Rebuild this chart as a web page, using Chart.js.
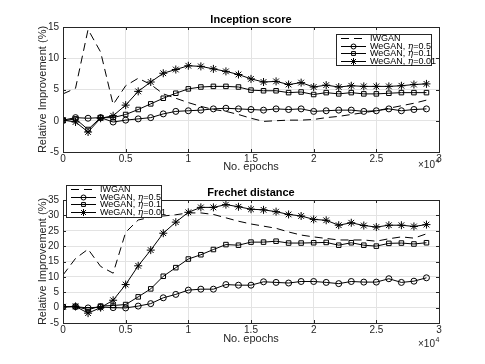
<!DOCTYPE html>
<html>
<head>
<meta charset="utf-8">
<script src="https://cdn.jsdelivr.net/npm/chart.js@4/dist/chart.umd.min.js"></script>
<style>
  html, body { margin: 0; padding: 0; background: #fff; }
  #wrap { width: 485px; height: 364px; position: relative; }
  canvas { display: block; position: absolute; left: 0; }
</style>
</head>
<body>
<div id="wrap">
  <canvas id="isChart" width="485" height="182" style="top:0"></canvas>
  <canvas id="fdChart" width="485" height="182" style="top:182px"></canvas>
</div>
<script>
/* Dados (épocas x melhoria relativa em %). */
const EPOCHS = [0, 1000, 2000, 3000, 4000, 5000, 6000, 7000, 8000, 9000,
  10000, 11000, 12000, 13000, 14000, 15000, 16000, 17000, 18000, 19000,
  20000, 21000, 22000, 23000, 24000, 25000, 26000, 27000, 28000, 29000];

const SERIES_LABELS = ['IWGAN', 'WeGAN, η=0.5', 'WeGAN, η=0.1', 'WeGAN, η=0.01'];
const ETA_VALUES = ['0.5', '0.1', '0.01'];

// Inception score
const IS_IWGAN  = [4.3, 5.2, 14.6, 11.0, 2.6, 5.6, 6.8, 5.8, 4.3, 3.6, 2.9, 2.3, 1.8, 1.5, 1.0, 0.4,
  -0.1, 0.0, 0.1, 0.1, 0.2, 0.5, 0.7, 1.0, 1.3, 1.6, 2.0, 2.4, 2.8, 3.3];
const IS_ETA05  = [0.1, 0.5, 0.4, 0.5, -0.2, 0.1, 0.3, 0.5, 1.1, 1.5, 1.6, 1.7, 1.9, 2.0, 1.9, 1.8,
  1.7, 1.9, 1.8, 1.9, 1.5, 1.6, 1.7, 1.7, 1.5, 1.6, 1.9, 1.6, 1.8, 1.9];
const IS_ETA01  = [0.0, 0.3, -1.4, 0.5, 0.5, 1.0, 1.8, 2.7, 3.6, 4.4, 5.1, 5.4, 5.5, 5.5, 5.4, 4.9,
  4.8, 4.8, 4.5, 4.6, 4.2, 4.5, 4.3, 4.5, 4.3, 4.3, 4.4, 4.5, 4.5, 4.5];
const IS_ETA001 = [0.1, -0.2, -1.8, 0.4, 0.8, 2.5, 4.7, 6.2, 7.6, 8.2, 8.8, 8.7, 8.3, 7.9, 7.4, 6.7,
  6.2, 6.3, 5.8, 6.1, 5.4, 5.7, 5.4, 5.6, 5.5, 5.5, 5.5, 5.6, 5.8, 5.9];

// Frechet distance
const FD_IWGAN  = [10.6, 16.0, 19.0, 13.4, 11.2, 24.5, 28.5, 29.4, 29.8, 30.2, 30.8, 30.8, 30.3, 29.2,
  28.1, 27.2, 26.5, 25.8, 24.6, 23.6, 23.0, 22.5, 22.0, 22.0, 22.0, 21.6, 22.4, 23.0, 22.6, 24.0];
const FD_ETA05  = [0.2, 0.3, -0.1, 0.2, 0.0, -0.1, 0.5, 1.3, 3.2, 4.3, 5.7, 6.0, 6.0, 7.5, 7.3, 7.3,
  8.4, 8.2, 8.0, 8.5, 8.5, 8.2, 7.8, 8.5, 8.3, 8.3, 9.4, 8.2, 8.6, 9.7];
const FD_ETA01  = [0.3, 0.4, -0.7, 0.5, 0.7, 1.0, 3.5, 6.1, 10.2, 13.0, 15.8, 17.2, 18.9, 20.5, 20.3,
  21.3, 21.3, 21.6, 21.0, 21.0, 21.1, 21.2, 20.3, 21.1, 20.3, 20.0, 20.9, 21.0, 20.7, 21.1];
const FD_ETA001 = [0.3, 0.4, -1.8, 0.0, 2.4, 7.5, 13.6, 18.7, 24.2, 27.8, 31.0, 32.6, 32.6, 33.5, 32.8,
  32.0, 31.8, 31.2, 30.3, 29.8, 28.7, 28.4, 26.8, 27.6, 26.7, 26.2, 26.8, 26.8, 26.4, 27.0];

const FONT = '"Liberation Sans", Arial, sans-serif';
const AX = '#262626';
const GRID = '#e3e3e3';

/* Estilo de cada série: linha tracejada sem marcador ou linha com marcador. */
const STYLES = [
  { dash: [8, 5], point: false, radius: 0 },
  { dash: [], point: 'circle', radius: 3 },
  { dash: [], point: 'rect', radius: 3.2 },
  { dash: [], point: 'star', radius: 4 },
];

function buildDatasets(seriesList) {
  return seriesList.map((data, i) => ({
    label: SERIES_LABELS[i],
    data,
    borderColor: '#000',
    borderWidth: 1,
    borderDash: STYLES[i].dash,
    pointStyle: STYLES[i].point,
    pointRadius: STYLES[i].radius,
    pointBorderColor: '#000',
    pointBackgroundColor: 'rgba(0,0,0,0)',
    pointBorderWidth: 1,
    tension: 0,
    fill: false,
  }));
}

/* Moldura estilo MATLAB: caixa completa + ticks internos + título + ×10^4. */
const framePlugin = {
  id: 'frame',
  afterDatasetsDraw(chart, args, opts) {
    const { ctx, chartArea: a, scales } = chart;
    ctx.save();
    ctx.strokeStyle = AX;
    ctx.lineWidth = 1;
    ctx.setLineDash([]);
    ctx.strokeRect(Math.round(a.left) + 0.5, Math.round(a.top) + 0.5,
      Math.round(a.right - a.left), Math.round(a.bottom - a.top));

    ctx.beginPath();
    scales.x.ticks.forEach(t => {
      const x = Math.round(scales.x.getPixelForValue(t.value)) + 0.5;
      ctx.moveTo(x, a.bottom); ctx.lineTo(x, a.bottom - 3);
      ctx.moveTo(x, a.top); ctx.lineTo(x, a.top + 3);
    });
    scales.y.ticks.forEach(t => {
      const y = Math.round(scales.y.getPixelForValue(t.value)) + 0.5;
      ctx.moveTo(a.left, y); ctx.lineTo(a.left + 3, y);
      ctx.moveTo(a.right, y); ctx.lineTo(a.right - 3, y);
    });
    ctx.stroke();

    // título
    ctx.fillStyle = '#000';
    ctx.font = 'bold 11px ' + FONT;
    ctx.textAlign = 'center';
    ctx.textBaseline = 'middle';
    ctx.fillText(opts.title, (a.left + a.right) / 2, opts.titleY);

    // multiplicador do eixo x
    ctx.fillStyle = AX;
    ctx.font = '10px ' + FONT;
    ctx.textAlign = 'left';
    ctx.textBaseline = 'alphabetic';
    const ex = a.right - 21, ey = opts.expY;
    ctx.fillText('×10', ex, ey);
    const w = ctx.measureText('×10').width;
    ctx.font = '7px ' + FONT;
    ctx.fillText('4', ex + w + 0.5, ey - 5);
    ctx.restore();
  },
};

/* Legenda dentro da área do gráfico, com caixa. */
const legendPlugin = {
  id: 'boxLegend',
  afterDraw(chart, args, opts) {
    const { ctx } = chart;
    const { x, y, w, h } = opts;
    ctx.save();
    ctx.fillStyle = '#fff';
    ctx.fillRect(x, y, w, h);
    ctx.strokeStyle = AX;
    ctx.lineWidth = 1;
    ctx.strokeRect(x + 0.5, y + 0.5, w, h);
    chart.data.datasets.forEach((ds, i) => {
      const ry = Math.round(y + 4 + i * 7.6) + 0.5;
      ctx.strokeStyle = '#000';
      ctx.setLineDash(STYLES[i].dash);
      ctx.beginPath();
      ctx.moveTo(x + 5, ry);
      ctx.lineTo(x + 30, ry);
      ctx.stroke();
      ctx.setLineDash([]);
      if (STYLES[i].point && Chart.helpers && Chart.helpers.drawPoint) {
        ctx.fillStyle = 'rgba(0,0,0,0)';
        ctx.strokeStyle = '#000';
        ctx.lineWidth = 1;
        Chart.helpers.drawPoint(ctx, {
          pointStyle: STYLES[i].point, radius: STYLES[i].radius - 0.5, borderWidth: 1, rotation: 0,
        }, x + 17.5, ry);
      }
      ctx.fillStyle = '#000';
      ctx.textBaseline = 'middle';
      ctx.textAlign = 'left';
      let tx = x + 34;
      ctx.font = '9px ' + FONT;
      if (i === 0) {
        ctx.fillText('IWGAN', tx, ry);
      } else {
        ctx.fillText('WeGAN, ', tx, ry);
        tx += ctx.measureText('WeGAN, ').width;
        ctx.font = 'italic 9px "DejaVu Serif", serif';
        ctx.fillText('η', tx, ry);
        tx += ctx.measureText('η').width;
        ctx.font = '9px ' + FONT;
        ctx.fillText('=' + ETA_VALUES[i - 1], tx, ry);
      }
    });
    ctx.restore();
  },
};

function makeChart(id, series, cfg) {
  const H = 182;
  return new Chart(document.getElementById(id).getContext('2d'), {
    type: 'line',
    plugins: [framePlugin, legendPlugin],
    data: { labels: EPOCHS, datasets: buildDatasets(series) },
    options: {
      responsive: false,
      animation: false,
      devicePixelRatio: 1,
      layout: { padding: { left: 0, top: cfg.top, right: 46, bottom: 0 } },
      scales: {
        x: {
          type: 'linear', min: 0, max: 30000,
          afterFit: s => { s.height = H - cfg.bottom; },
          ticks: { stepSize: 5000, padding: 1, color: AX, font: { size: 10, family: FONT },
            callback: v => String(v / 10000), maxRotation: 0 },
          grid: { color: GRID, drawTicks: false },
          border: { display: false },
          title: { display: true, text: 'No. epochs', color: AX,
            font: { size: 11, family: FONT }, padding: { top: 0, bottom: cfg.xTitlePad } },
        },
        y: {
          min: cfg.yMin, max: cfg.yMax,
          afterFit: s => { s.width = 63; },
          ticks: { stepSize: 5, padding: 4, color: AX, font: { size: 10, family: FONT } },
          grid: { color: GRID, drawTicks: false },
          border: { display: false },
          title: { display: true, text: 'Relative Improvement (%)', color: AX,
            font: { size: 11, family: FONT }, padding: { top: 36, bottom: 0 } },
        },
      },
      plugins: {
        legend: { display: false },
        tooltip: { enabled: false },
        frame: { title: cfg.title, titleY: cfg.titleY, expY: cfg.expY },
        boxLegend: cfg.legend,
      },
    },
  });
}

makeChart('isChart', [IS_IWGAN, IS_ETA05, IS_ETA01, IS_ETA001], {
  title: 'Inception score', titleY: 20, top: 27, bottom: 152, yMin: -5, yMax: 15,
  xTitlePad: 8, expY: 168, legend: { x: 336, y: 34, w: 95, h: 31 },
});

makeChart('fdChart', [FD_IWGAN, FD_ETA05, FD_ETA01, FD_ETA001], {
  title: 'Frechet distance', titleY: 11, top: 18, bottom: 141, yMin: -5, yMax: 35,
  xTitlePad: 18, expY: 165, legend: { x: 66, y: 3, w: 95, h: 32 },
});
</script>
</body>
</html>
